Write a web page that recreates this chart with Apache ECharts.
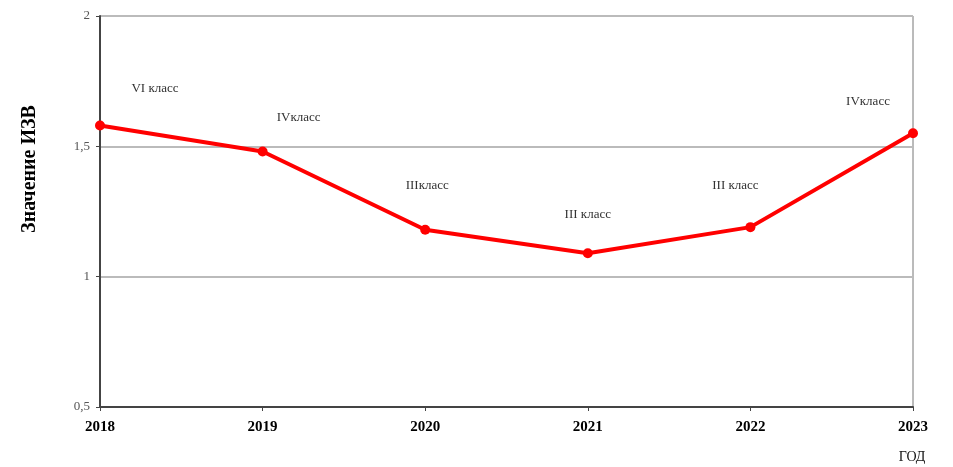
<!DOCTYPE html>
<html><head><meta charset="utf-8">
<script src="https://cdn.jsdelivr.net/npm/echarts@6/dist/echarts.min.js"></script>
<style>html,body{margin:0;padding:0;background:#fff}#c{width:953px;height:467px}</style>
</head><body><div id="c"></div>
<script>
const years = ['2018','2019','2020','2021','2022','2023'];
const izvValues = [1.58, 1.48, 1.18, 1.09, 1.19, 1.55];
const classLabels = ['VI класс','IVкласс','IIIкласс','III класс','III класс','IVкласс'];
const yTickLabels = {0.5:'0,5', 1:'1', 1.5:'1,5', 2:'2'};
// label offsets (layout only)
const labelOffsets = [[55,-20],[36,-17],[2,-28],[0,-22],[-15,-25],[-45,-15]];

const serif = '"Liberation Serif","DejaVu Serif",serif';
const chart = echarts.init(document.getElementById('c'));
chart.setOption({
  animation:false,
  grid:{left:100,right:40,top:16,bottom:60,show:true,borderColor:'#777',borderWidth:1},
  xAxis:{type:'category',data:years,boundaryGap:false,
    axisLine:{lineStyle:{color:'#444',width:2}},
    axisTick:{show:true,length:4,alignWithLabel:true,lineStyle:{color:'#444'}},
    axisLabel:{color:'#000',fontFamily:serif,fontWeight:'bold',fontSize:15,margin:13},
    splitLine:{show:false}},
  yAxis:{type:'value',min:0.5,max:2,interval:0.5,
    axisLine:{show:true,lineStyle:{color:'#444',width:2}},
    axisTick:{show:true,length:4,lineStyle:{color:'#444'}},
    axisLabel:{color:'#555',fontFamily:serif,fontSize:13,margin:10,
      formatter:v=>yTickLabels[v]!==undefined?yTickLabels[v]:String(v).replace('.',',')},
    splitLine:{show:true,lineStyle:{color:'#bbb',width:2}}},
  graphic:[
    {type:'text',x:30,y:169,rotation:Math.PI/2,style:{text:'Значение ИЗВ',fill:'#000',
      font:'bold 20px '+serif,textAlign:'center',textVerticalAlign:'middle'}},
    {type:'text',x:912,y:457,style:{text:'ГОД',fill:'#111',font:'14px '+serif,
      textAlign:'center',textVerticalAlign:'middle'}}
  ],
  series:[{type:'line',data:izvValues.map((v,i)=>({value:v,
      label:{show:true,position:'top',formatter:classLabels[i],offset:labelOffsets[i]}})),
    symbol:'circle',symbolSize:10,
    lineStyle:{color:'#ff0000',width:4},itemStyle:{color:'#ff0000'},
    label:{color:'#333',fontFamily:serif,fontSize:13}}]
});
</script></body></html>
